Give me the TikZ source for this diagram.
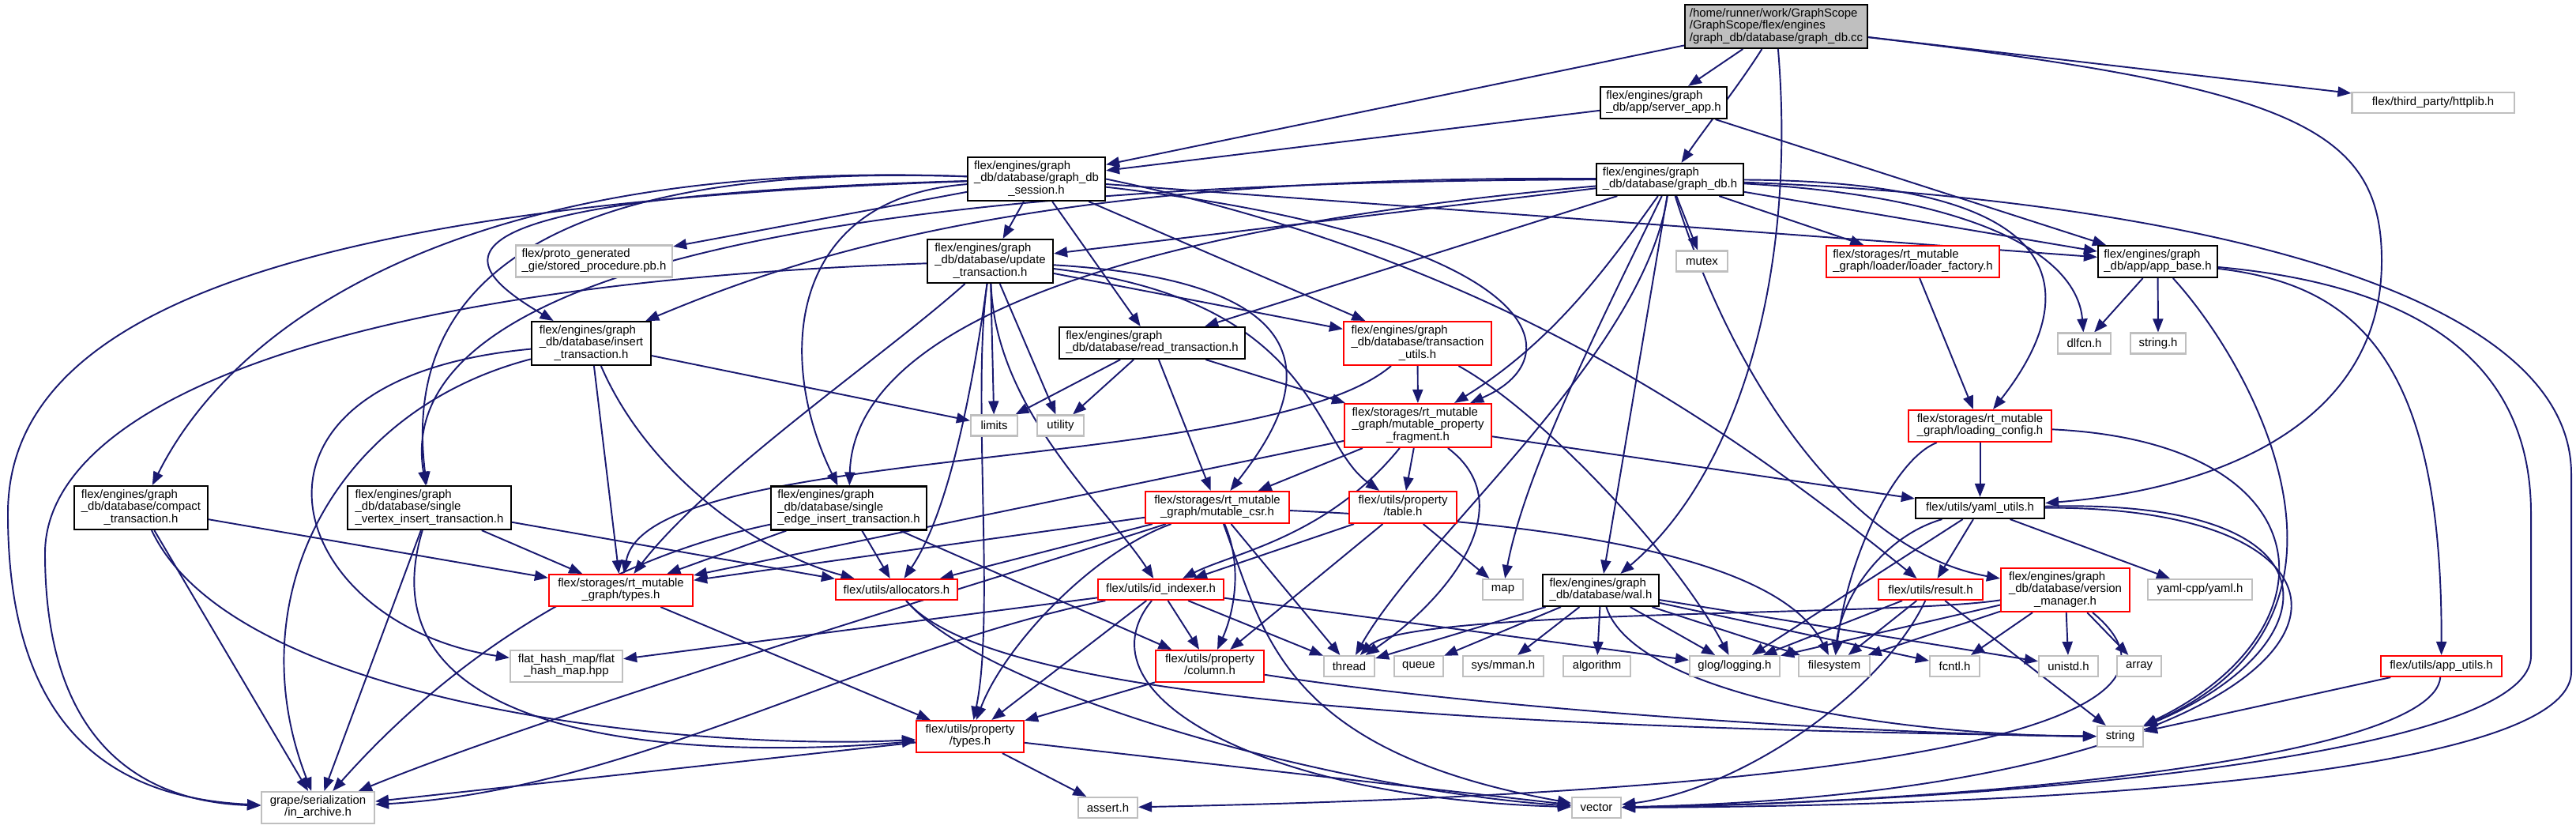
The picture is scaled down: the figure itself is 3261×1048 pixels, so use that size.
\documentclass[tikz,border=0pt]{standalone}
\usepackage{fontspec}
\usetikzlibrary{arrows.meta}
\newfontfamily\doxfam{Liberation Sans}
\newcommand{\doxfont}{\doxfam\fontsize{4.25pt}{4.3pt}\selectfont}
% erste Zeilen linksbuendig, letzte Zeile zentriert
\newcommand{\lbl}[2]{\begin{tabular}{@{}l@{}}#1\\\multicolumn{1}{@{}c@{}}{#2}\end{tabular}}
\definecolor{edgeblue}{RGB}{25,25,112}
\definecolor{boxgray}{RGB}{191,191,191}
\definecolor{boxred}{RGB}{255,0,0}
\pgfdeclarelayer{edges}
\pgfsetlayers{edges,main}
\tikzset{
  hdr/.style={draw=black, fill=white, line width=0.6pt, inner sep=0pt, font=\doxfont},
  trunc/.style={hdr, draw=boxred},
  sys/.style={hdr, draw=boxgray},
  root/.style={hdr, fill=boxgray},
  h1/.style={minimum height=0.26cm},
  h2/.style={minimum height=0.40cm},
  h3/.style={minimum height=0.55cm},
  wd/.style={minimum width=#1cm},
  inc/.style={draw=edgeblue, line width=0.55pt, -{Triangle[length=1.7mm, width=1.3mm]}}
}
\begin{document}
\begin{tikzpicture}[x=0.01cm, y=-0.01cm]
\useasboundingbox (0,0) rectangle (3261,1048);
% Dateien, Zeile fuer Zeile von oben
\node[root, h3, wd=2.31] (cc) at (2248.5,33.5) {\lbl{/home/runner/work/GraphScope\\/GraphScope/flex/engines}{/graph\_db/database/graph\_db.cc}};
\node[hdr, h2, wd=1.60] (srv) at (2106,130) {\lbl{flex/engines/graph}{\_db/app/server\_app.h}};
\node[sys, h1, wd=2.05] (http) at (3080,130) {flex/third\_party/httplib.h};
\node[hdr, h3, wd=1.74] (sess) at (1312,226.5) {\lbl{flex/engines/graph\\\_db/database/graph\_db}{\_session.h}};
\node[hdr, h2, wd=1.86] (gdb) at (2114,227) {\lbl{flex/engines/graph}{\_db/database/graph\_db.h}};
\node[hdr, h3, wd=1.59] (upd) at (1253.5,330.5) {\lbl{flex/engines/graph\\\_db/database/update}{\_transaction.h}};
\node[sys, h2, wd=1.98] (proto) at (752,330.5) {\lbl{flex/proto\_generated}{\_gie/stored\_procedure.pb.h}};
\node[sys, h1, wd=0.65] (mutex) at (2154.5,330.5) {mutex};
\node[trunc, h2, wd=2.19] (ldf) at (2421.5,331) {\lbl{flex/storages/rt\_mutable}{\_graph/loader/loader\_factory.h}};
\node[hdr, h2, wd=1.51] (appb) at (2731.5,331) {\lbl{flex/engines/graph}{\_db/app/app\_base.h}};
\node[hdr, h3, wd=1.51] (ins) at (748.5,434.5) {\lbl{flex/engines/graph\\\_db/database/insert}{\_transaction.h}};
\node[hdr, h2, wd=2.35] (rd) at (1458.5,434) {\lbl{flex/engines/graph}{\_db/database/read\_transaction.h}};
\node[trunc, h3, wd=1.87] (tutil) at (1794.5,434.5) {\lbl{flex/engines/graph\\\_db/database/transaction}{\_utils.h}};
\node[sys, h1, wd=0.67] (dlfcn) at (2638.5,434.5) {dlfcn.h};
\node[sys, h1, wd=0.70] (strh) at (2732,434.5) {string.h};
\node[sys, h1, wd=0.59] (limits) at (1258.5,538.5) {limits};
\node[sys, h1, wd=0.59] (utility) at (1342.5,538.5) {utility};
\node[trunc, h3, wd=1.86] (mpf) at (1795,538.5) {\lbl{flex/storages/rt\_mutable\\\_graph/mutable\_property}{\_fragment.h}};
\node[trunc, h2, wd=1.81] (lcfg) at (2506.5,539) {\lbl{flex/storages/rt\_mutable}{\_graph/loading\_config.h}};
\node[hdr, h3, wd=1.69] (comp) at (178.5,642.5) {\lbl{flex/engines/graph\\\_db/database/compact}{\_transaction.h}};
\node[hdr, h3, wd=2.07] (sv) at (543.5,642.5) {\lbl{flex/engines/graph\\\_db/database/single}{\_vertex\_insert\_transaction.h}};
\node[hdr, h3, wd=1.97] (se) at (1074.5,643) {\lbl{flex/engines/graph\\\_db/database/single}{\_edge\_insert\_transaction.h}};
\node[trunc, h2, wd=1.82] (csr) at (1541,642) {\lbl{flex/storages/rt\_mutable}{\_graph/mutable\_csr.h}};
\node[trunc, h2, wd=1.36] (table) at (1776,642) {\lbl{flex/utils/property}{/table.h}};
\node[hdr, h1, wd=1.63] (yaml) at (2506.5,643) {flex/utils/yaml\_utils.h};
\node[trunc, h2, wd=1.82] (rtypes) at (786,747) {\lbl{flex/storages/rt\_mutable}{\_graph/types.h}};
\node[trunc, h1, wd=1.54] (alloc) at (1135,746) {flex/utils/allocators.h};
\node[trunc, h1, wd=1.59] (idx) at (1469.5,746) {flex/utils/id\_indexer.h};
\node[sys, h1, wd=0.51] (map) at (1902.5,746) {map};
\node[hdr, h2, wd=1.47] (wal) at (2026.5,747) {\lbl{flex/engines/graph}{\_db/database/wal.h}};
\node[trunc, h1, wd=1.32] (result) at (2444,746) {flex/utils/result.h};
\node[trunc, h3, wd=1.63] (vm) at (2614.5,746.5) {\lbl{flex/engines/graph\\\_db/database/version}{\_manager.h}};
\node[sys, h1, wd=1.32] (yamlcpp) at (2785,746) {yaml-cpp/yaml.h};
\node[sys, h2, wd=1.42] (flat) at (717,843) {\lbl{flat\_hash\_map/flat}{\_hash\_map.hpp}};
\node[trunc, h2, wd=1.37] (column) at (1531.5,843) {\lbl{flex/utils/property}{/column.h}};
\node[sys, h1, wd=0.64] (thread) at (1708,843) {thread};
\node[sys, h1, wd=0.62] (queue) at (1796,843) {queue};
\node[sys, h1, wd=1.02] (mman) at (1903,843) {sys/mman.h};
\node[sys, h1, wd=0.85] (algorithm) at (2021.5,843) {algorithm};
\node[sys, h1, wd=1.14] (glog) at (2196,843) {glog/logging.h};
\node[sys, h1, wd=0.90] (fs) at (2322,843) {filesystem};
\node[sys, h1, wd=0.63] (fcntl) at (2474.5,843) {fcntl.h};
\node[sys, h1, wd=0.75] (unistd) at (2618.5,843) {unistd.h};
\node[sys, h1, wd=0.56] (array) at (2708,843) {array};
\node[trunc, h1, wd=1.53] (appu) at (3090.5,843) {flex/utils/app\_utils.h};
\node[trunc, h2, wd=1.36] (ptypes) at (1228,932) {\lbl{flex/utils/property}{/types.h}};
\node[sys, h1, wd=0.58] (string) at (2684,932) {string};
\node[sys, h2, wd=1.43] (archive) at (402.5,1022) {\lbl{grape/serialization}{/in\_archive.h}};
\node[sys, h1, wd=0.75] (assert) at (1402.5,1022) {assert.h};
\node[sys, h1, wd=0.62] (vector) at (2021,1022) {vector};
\begin{pgfonlayer}{edges}
% graph_db.cc
\draw[inc] (cc) -- (srv);
\draw[inc] (cc) -- (sess);
\draw[inc] (cc) .. controls (2200,110) and (2160,160) .. (gdb);
\draw[inc] (cc) .. controls (2275,350) and (2200,600) .. (wal);
\draw[inc] (cc) -- (http);
\draw[inc] (cc) .. controls (2900,110) and (3015,160) .. (3015,330) .. controls (3015,540) and (2800,620) .. (yaml);
% server_app.h
\draw[inc] (srv) -- (sess);
\draw[inc] (srv) -- (appb);
% graph_db_session.h
\draw[inc] (sess) -- (proto);
\draw[inc] (sess) -- (upd);
\draw[inc] (sess) -- (rd);
\draw[inc] (sess) -- (tutil);
\draw[inc] (sess) -- (appb);
\draw[inc] (sess.east) .. controls (1900,330) and (2200,550) .. (result);
\draw[inc] (sess) .. controls (480,250) and (590,340) .. (ins);
\draw[inc] (sess) .. controls (600,200) and (300,400) .. (comp);
\draw[inc] (sess) .. controls (560,200) and (520,450) .. (sv);
\draw[inc] (sess) .. controls (1000,250) and (980,450) .. (se);
\draw[inc] (sess) .. controls (1950,300) and (2000,450) .. (mpf);
\draw[inc] (sess) .. controls (300,260) and (10,420) .. (10,650) .. controls (10,930) and (150,1010) .. (archive);
% graph_db.h
\draw[inc] (gdb) -- (upd);
\draw[inc] (gdb) -- (rd);
\draw[inc] (gdb) .. controls (1300,220) and (1000,330) .. (ins);
\draw[inc] (gdb) .. controls (900,230) and (500,380) .. (sv);
\draw[inc] (gdb) .. controls (1300,300) and (1080,450) .. (se);
\draw[inc] (gdb) -- (mutex);
\draw[inc] (gdb) -- (ldf);
\draw[inc] (gdb) -- (appb);
\draw[inc] (gdb) .. controls (2520,250) and (2630,330) .. (dlfcn);
\draw[inc] (gdb) .. controls (2700,230) and (2600,420) .. (lcfg);
\draw[inc] (gdb) .. controls (2040,330) and (1970,430) .. (mpf);
\draw[inc] (gdb) .. controls (2080,450) and (1800,680) .. (thread);
\draw[inc] (gdb) .. controls (2020,420) and (1930,600) .. (map);
\draw[inc] (gdb) -- (wal);
\draw[inc] (gdb) .. controls (2200,500) and (2350,700) .. (vm);
\draw[inc] (gdb) .. controls (2700,250) and (3255,350) .. (3255,600) -- (3255,850) .. controls (3255,980) and (2600,1020) .. (vector);
% update_transaction.h
\draw[inc] (upd) -- (limits);
\draw[inc] (upd) -- (utility);
\draw[inc] (upd) -- (tutil);
\draw[inc] (upd) .. controls (1750,360) and (1620,540) .. (csr);
\draw[inc] (upd) .. controls (1670,380) and (1660,560) .. (table);
\draw[inc] (upd) .. controls (1120,450) and (900,600) .. (rtypes);
\draw[inc] (upd) .. controls (1230,500) and (1200,650) .. (alloc);
\draw[inc] (upd) .. controls (1260,520) and (1400,640) .. (idx);
\draw[inc] (upd) .. controls (1230,500) and (1260,780) .. (ptypes);
\draw[inc] (upd) .. controls (400,360) and (57,520) .. (57,700) .. controls (57,960) and (200,1015) .. (archive);
% read_transaction.h
\draw[inc] (rd) -- (limits);
\draw[inc] (rd) -- (utility);
\draw[inc] (rd) -- (csr);
\draw[inc] (rd) -- (mpf);
% transaction_utils.h
\draw[inc] (tutil) -- (mpf);
\draw[inc] (tutil) .. controls (1600,600) and (820,560) .. (rtypes);
\draw[inc] (tutil) .. controls (1950,520) and (2120,700) .. (glog);
% insert_transaction.h
\draw[inc] (ins) -- (limits);
\draw[inc] (ins) -- (rtypes);
\draw[inc] (ins) .. controls (820,600) and (960,700) .. (alloc);
\draw[inc] (ins) .. controls (420,520) and (300,760) .. (archive);
\draw[inc] (ins) .. controls (260,480) and (360,790) .. (flat);
% compact_transaction.h
\draw[inc] (comp) -- (rtypes);
\draw[inc] (comp) -- (archive);
\draw[inc] (comp) .. controls (300,900) and (900,950) .. (ptypes);
% single_vertex_insert_transaction.h
\draw[inc] (sv) -- (rtypes);
\draw[inc] (sv) -- (alloc);
\draw[inc] (sv) -- (archive);
\draw[inc] (sv) .. controls (450,950) and (900,960) .. (ptypes);
% single_edge_insert_transaction.h
\draw[inc] (se) -- (rtypes);
\draw[inc] (se) -- (alloc);
\draw[inc] (se) -- (column);
\draw[inc] (se) .. controls (800,700) and (600,800) .. (archive);
% mutable_property_fragment.h
\draw[inc] (mpf) -- (csr);
\draw[inc] (mpf) -- (table);
\draw[inc] (mpf) -- (yaml);
\draw[inc] (mpf) -- (rtypes);
\draw[inc] (mpf) .. controls (1680,680) and (1560,700) .. (idx);
\draw[inc] (mpf) .. controls (1930,640) and (1830,760) .. (thread);
% mutable_csr.h und table.h
\draw[inc] (csr) -- (rtypes);
\draw[inc] (csr) -- (alloc);
\draw[inc] (csr) -- (thread);
\draw[inc] (csr) .. controls (1575,720) and (1560,780) .. (column);
\draw[inc] (csr) .. controls (1380,700) and (1270,820) .. (ptypes);
\draw[inc] (csr) .. controls (1600,800) and (1620,950) .. (vector);
\draw[inc] (csr) .. controls (1950,660) and (2250,700) .. (fs);
\draw[inc] (csr) .. controls (1300,720) and (700,900) .. (archive);
\draw[inc] (table) -- (idx);
\draw[inc] (table) -- (column);
\draw[inc] (table) -- (map);
\draw[inc] (rtypes) -- (ptypes);
% id_indexer.h, allocators.h, column.h, types.h
\draw[inc] (idx) -- (column);
\draw[inc] (idx) -- (thread);
\draw[inc] (idx) -- (ptypes);
\draw[inc] (idx) -- (flat);
\draw[inc] (idx) -- (glog);
\draw[inc] (idx) .. controls (1360,880) and (1600,1010) .. (vector);
\draw[inc] (idx) .. controls (1100,820) and (800,1000) .. (archive);
\draw[inc] (alloc) .. controls (1250,880) and (1700,1000) .. (vector);
\draw[inc] (alloc) .. controls (1250,880) and (1800,920) .. (string);
\draw[inc] (column) -- (ptypes);
\draw[inc] (column) .. controls (1900,900) and (2400,930) .. (string);
\draw[inc] (ptypes) -- (assert);
\draw[inc] (ptypes) -- (vector);
\draw[inc] (ptypes) -- (archive);
% wal.h
\draw[inc] (wal) -- (thread);
\draw[inc] (wal) -- (queue);
\draw[inc] (wal) -- (mman);
\draw[inc] (wal) -- (algorithm);
\draw[inc] (wal) -- (glog);
\draw[inc] (wal) -- (fs);
\draw[inc] (wal) -- (fcntl);
\draw[inc] (wal) -- (unistd);
\draw[inc] (wal) .. controls (2070,880) and (2400,930) .. (string);
% loader, loading_config, yaml_utils
\draw[inc] (ldf) -- (lcfg);
\draw[inc] (lcfg) -- (yaml);
\draw[inc] (lcfg) .. controls (2400,580) and (2340,700) .. (fs);
\draw[inc] (lcfg) .. controls (2950,560) and (2960,800) .. (string);
\draw[inc] (yaml) -- (result);
\draw[inc] (yaml) -- (yamlcpp);
\draw[inc] (yaml) -- (glog);
\draw[inc] (yaml) .. controls (2380,680) and (2330,760) .. (fs);
\draw[inc] (yaml) .. controls (2980,630) and (2950,820) .. (string);
\draw[inc] (yaml) .. controls (3100,640) and (3020,1000) .. (vector);
% app_base.h und app_utils.h
\draw[inc] (appb) -- (dlfcn);
\draw[inc] (appb) -- (strh);
\draw[inc] (appb) .. controls (2850,460) and (3030,780) .. (string);
\draw[inc] (appb) .. controls (2980,360) and (3092,450) .. (appu);
\draw[inc] (appb) .. controls (3050,360) and (3204,450) .. (3204,650) -- (3204,830) .. controls (3204,960) and (2500,1015) .. (vector);
\draw[inc] (appu) -- (string);
\draw[inc] (appu) .. controls (3080,960) and (2500,1015) .. (vector);
% result.h und version_manager.h
\draw[inc] (result) -- (glog);
\draw[inc] (result) -- (fs);
\draw[inc] (result) -- (string);
\draw[inc] (result) .. controls (2380,880) and (2200,1000) .. (vector);
\draw[inc] (vm) -- (fcntl);
\draw[inc] (vm) -- (unistd);
\draw[inc] (vm) -- (array);
\draw[inc] (vm) -- (glog);
\draw[inc] (vm) -- (fs);
\draw[inc] (vm) .. controls (2400,780) and (1780,770) .. (thread);
\draw[inc] (vm) .. controls (2800,900) and (2500,1000) .. (assert);
\end{pgfonlayer}
\end{tikzpicture}
\end{document}
